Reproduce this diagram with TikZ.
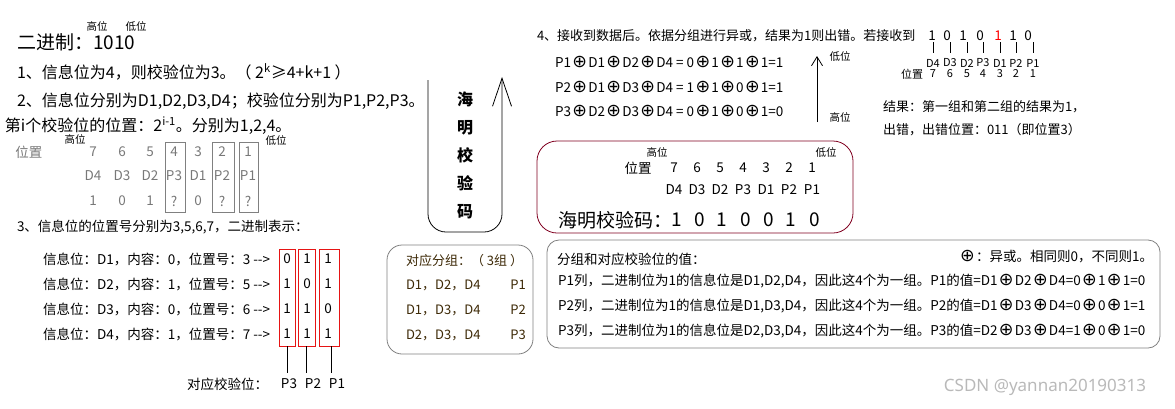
\documentclass[tikz,border=0pt]{standalone}
\usepackage{fontspec}
\setmainfont{Noto Sans CJK SC}
\newfontfamily\dv{DejaVu Sans}
\newfontfamily\wm{Noto Sans}
\usetikzlibrary{arrows.meta}
\newcommand{\xo}{\kern1.3pt{\dv\fontsize{17.5}{16}\selectfont ⊕}\kern1.3pt}
\definecolor{boxgray}{RGB}{128,128,128}
\definecolor{tabgray}{RGB}{120,120,120}
\definecolor{maroonb}{RGB}{128,0,32}
\definecolor{redbox}{RGB}{230,20,20}
\definecolor{brn}{RGB}{60,40,5}
\definecolor{wmgray}{RGB}{185,185,185}
\begin{document}
\begin{tikzpicture}[x=1pt,y=-1pt,
  every node/.style={inner sep=0pt, outer sep=0pt},
  t/.style={font=\fontsize{13.5}{16}\selectfont},
  tr/.style={font=\fontsize{13}{16}\selectfont},
  tl/.style={font=\fontsize{16}{18}\selectfont},
  sm/.style={font=\fontsize{10.5}{12}\selectfont},
  lbl/.style={font=\fontsize{11}{13}\selectfont},
  big/.style={font=\fontsize{19}{22}\selectfont},
  gr/.style={font=\fontsize{13.5}{16}\selectfont, text=tabgray},
  bt/.style={font=\fontsize{13}{16}\selectfont, text=brn},
  gbox/.style={draw=boxgray, line width=0.8pt},
  rbox/.style={draw=redbox, line width=0.8pt},
  line/.style={draw=black, line width=0.8pt},
  rr/.style={draw=boxgray, line width=0.8pt, rounded corners=15pt},
]
\useasboundingbox (0,0) rectangle (1175,408);

% ---------------- left top ----------------
\node[sm] (hw1) at (97,26) {高位};
\node[sm] (dw1) at (136,26) {低位};
\node[big, anchor=west] (bin) at (17,42) {二进制：1010};
\node[tl, anchor=west] (l1) at (17,72) {1、信息位为4，则校验位为3。（ 2\textsuperscript{k}≥4+k+1 ）};
\node[tl, anchor=west] (l2) at (17,101) {2、信息位分别为D1,D2,D3,D4；校验位分别为P1,P2,P3。};
\node[tl, anchor=west] (l3) at (5,126) {第i个校验位的位置：2\textsuperscript{i-1}。分别为1,2,4。};

% table
\node[sm] (hw2) at (75,139) {高位};
\node[sm] (dw2) at (276,140) {低位};
\node[gr] (pos) at (29,152) {位置};
\foreach \x/\n/\d/\v [count=\i] in {93/7/D4/1,122/6/D3/0,150/5/D2/1,174/4/P3/?,198/3/D1/0,222/2/P2/?,248/1/P1/?}{
  \node[gr] (tn\i) at (\x,152) {\n};
  \node[gr] (td\i) at (\x,176) {\d};
  \node[gr] (tv\i) at (\x,201) {\v};
}
\draw[gbox] (165,142) rectangle (185,212);
\draw[gbox] (212,142) rectangle (234,212);
\draw[gbox] (239,142) rectangle (258,212);

% ---------------- left bottom ----------------
\node[t, anchor=west] (l4) at (17,227) {3、信息位的位置号分别为3,5,6,7，二进制表示：};
\node[t, anchor=west] (r1) at (43,259) {信息位：D1，内容：0，位置号：3 -{}->};
\node[t, anchor=west] (r2) at (43,284) {信息位：D2，内容：1，位置号：5 -{}->};
\node[t, anchor=west] (r3) at (43,309) {信息位：D3，内容：0，位置号：6 -{}->};
\node[t, anchor=west] (r4) at (43,334) {信息位：D4，内容：1，位置号：7 -{}->};
\node[rbox, minimum width=16pt, minimum height=97pt] (rb1) at (287,297.5) {};
\node[rbox, minimum width=17pt, minimum height=97pt] (rb2) at (306.5,297.5) {};
\node[rbox, minimum width=20pt, minimum height=97pt] (rb3) at (329,297.5) {};
\foreach \y/\a/\b/\c in {259/0/1/1,284/1/0/1,309/1/1/0,334/1/1/1}{
  \node[t] at (287,\y) {\a};
  \node[t] at (307,\y) {\b};
  \node[t] at (328,\y) {\c};
}
\node[t, anchor=west] (dy) at (187,384) {对应校验位：};
\node[t] (q3) at (289,384) {P3};
\node[t] (q2) at (313,384) {P2};
\node[t] (q1) at (337,384) {P1};
\draw[line] (rb1.south) -- (rb1.south |- 0,373);
\draw[line] (rb2.south) -- (rb2.south |- 0,373);
\draw[line] (331,346) -- (331,373);

% ---------------- middle ----------------
\coordinate (ustart) at (428,80);
\coordinate (uend) at (502,77);
\draw[line, rounded corners=18pt, -{Straight Barb[length=28pt,width=19pt,line width=0.8pt]}]
  (ustart) -- (428,232) -- (502,232) -- (uend);
\node[font=\fontsize{16}{28}\selectfont\bfseries, align=center] (hm) at (465,155) {海\\明\\校\\验\\码};

\node[rr, minimum width=146pt, minimum height=109pt] (grp) at (460,299.5) {};
\node[bt, anchor=west] (g0) at (406,261) {对应分组：（ 3组 ）};
\node[bt, anchor=west] (g1) at (406,285) {D1，D2，D4};
\node[bt, anchor=west] (g2) at (406,310) {D1，D3，D4};
\node[bt, anchor=west] (g3) at (406,335) {D2，D3，D4};
\node[bt] (gp1) at (518,285) {P1};
\node[bt] (gp2) at (518,310) {P2};
\node[bt] (gp3) at (518,335) {P3};

% ---------------- right top ----------------
\node[tr, anchor=west] (s4) at (537,36) {4、接收到数据后。依据分组进行异或，结果为1则出错。若接收到};
\node[t, anchor=west] (e1) at (555,62) {P1\xo D1\xo D2\xo D4 = 0\xo 1\xo 1\xo 1=1};
\node[t, anchor=west] (e2) at (555,87) {P2\xo D1\xo D3\xo D4 = 1\xo 1\xo 0\xo 1=1};
\node[t, anchor=west] (e3) at (555,111) {P3\xo D2\xo D3\xo D4 = 0\xo 1\xo 0\xo 1=0};
\coordinate (abot) at (817,122);
\coordinate (atop) at (817,56);
\draw[line, -{Straight Barb[length=9pt,width=11pt,line width=0.8pt]}] (abot) -- (atop);
\node[sm] (dw3) at (840,56) {低位};
\node[sm] (hw3) at (840,117) {高位};

% received data
\foreach \x/\v/\lx/\l/\n [count=\i] in {932/1/933/D4/7,947/0/950/D3/6,963/1/967/D2/5,980/0/983/P3/4,998/{\textcolor{red}{1}}/1000/D1/3,1013/1/1016/P2/2,1028/0/1033/P1/1}{
  \node[t] (rv\i) at (\x,36) {\v};
  \node[lbl] (rl\i) at (\lx,63) {\l};
  \node[lbl] (rn\i) at (\lx,74) {\n};
  \draw[line] (rl\i.north |- 0,42) -- (rl\i.north |- 0,53);
}
\node[lbl] (pos3) at (912,74) {位置};
\node[tr, anchor=west] (res1) at (883,107) {结果：第一组和第二组的结果为1，};
\node[tr, anchor=west] (res2) at (883,130) {出错，出错位置：011（即位置3）};

% ---------------- maroon box ----------------
\node[draw=maroonb, line width=0.8pt, rounded corners=20pt, minimum width=316pt, minimum height=92pt] (hb) at (695,187) {};
\node[sm] (hw4) at (657,152) {高位};
\node[sm] (dw4) at (826,152) {低位};
\node[t] (pos4) at (638,168) {位置};
\foreach \x/\n/\d [count=\i] in {674/7/D4,697/6/D3,720/5/D2,743/4/P3,766/3/D1,789/2/P2,812/1/P1}{
  \node[t] (hn\i) at (\x,168) {\n};
  \node[t] (hd\i) at (\x,190) {\d};
}
\node[big, anchor=west] (hmc) at (558,220) {海明校验码：};
\foreach \x/\v [count=\i] in {677/1,700/0,722/1,746/0,769/0,791/1,815/0}{
  \node[big] (hv\i) at (\x,220) {\v};
}

% ---------------- bottom right box ----------------
\node[rr, rounded corners=12pt, minimum width=613pt, minimum height=108pt] (vb) at (853.5,294) {};
\node[t, anchor=west] (v0) at (557,259) {分组和对应校验位的值：};
\node[t, anchor=east] (xor) at (1153,257) {\xo：异或。相同则0，不同则1。};
\node[t, anchor=west] (v1) at (558,281) {P1列，二进制位为1的信息位是D1,D2,D4，因此这4个为一组。P1的值=D1\xo D2\xo D4=0\xo 1\xo 1=0};
\node[t, anchor=west] (v2) at (558,306) {P2列，二进制位为1的信息位是D1,D3,D4，因此这4个为一组。P2的值=D1\xo D3\xo D4=0\xo 0\xo 1=1};
\node[t, anchor=west] (v3) at (558,331) {P3列，二进制位为1的信息位是D2,D3,D4，因此这4个为一组。P3的值=D2\xo D3\xo D4=1\xo 0\xo 1=0};

% watermark
\node[font=\wm\fontsize{17}{20}\selectfont, text=wmgray] (wm) at (1045,387) {CSDN @yannan20190313};
\end{tikzpicture}
\end{document}
